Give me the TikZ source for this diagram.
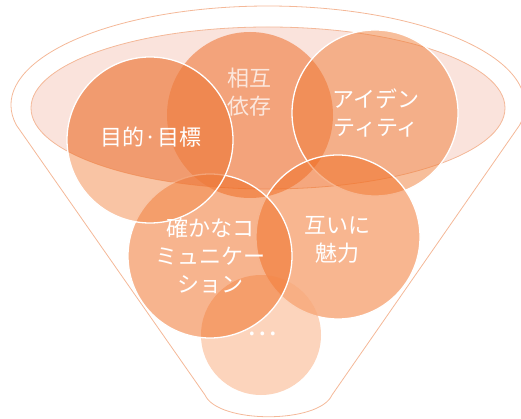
\documentclass[tikz,border=0pt]{standalone}
\usepackage{fontspec}
\newfontfamily\jp{Noto Sans CJK JP}
\definecolor{lineC}{RGB}{244,184,152}
\definecolor{ellC}{RGB}{250,227,220}
\definecolor{cA}{RGB}{243,137,73}
\definecolor{cB}{RGB}{238,101,28}
\definecolor{cC}{RGB}{240,125,56}
\definecolor{cD}{RGB}{241,109,33}
\definecolor{cE}{RGB}{239,105,29}
\definecolor{cF}{RGB}{249,169,121}
\definecolor{cOv}{RGB}{235,115,55}
\tikzset{
  funnelline/.style={draw=lineC, line width=0.8pt},
  bubble/.style={fill opacity=0.5},
  rim/.style={draw=white, line width=1.3pt},
  lbl/.style={font=\jp\fontsize{22}{28}\selectfont, align=center, text=white, inner sep=0pt},
}
\begin{document}
\begin{tikzpicture}[x=1pt,y=-1pt]
\useasboundingbox (0,0) rectangle (521,419);
% funnel outline
\coordinate (fl) at (16.34,125.08);
\coordinate (br) at (332,395);
\coordinate (bl) at (205,395);
\draw[funnelline] (fl) arc[start angle=168.3, end angle=371.7, x radius=257, y radius=99]
  -- (br) .. controls (319,424) and (218,424) .. (bl) -- cycle;
% inner ellipse
\path[fill=ellC, funnelline] (268,108) ellipse[x radius=237, y radius=81];
% circles
\fill[cB, bubble] (250,115) circle[radius=83];
\fill[cC, bubble] (375,113) circle[radius=83];
\draw[rim] (375,113) circle[radius=83];
\fill[cD, bubble] (338,237) circle[radius=82];
\draw[rim] (338,237) circle[radius=82];
\fill[cF, bubble] (261,335) circle[radius=60];
\fill[cE, bubble] (210,256) circle[radius=82];
\draw[rim] (210,256) circle[radius=82];
\fill[cA, bubble] (150,140) circle[radius=83];
\begin{scope}
  \clip (268,108) ellipse[x radius=237, y radius=81];
  \fill[cOv, fill opacity=0.38] (150,140) circle[radius=83];
\end{scope}
\draw[rim] (150,140) circle[radius=83];
% labels
\node[lbl] (t1) at (151,137) {目的·目標};
\node[lbl, text opacity=0.75] (t2) at (249,92) {相互\\依存};
\node[lbl] (t3) at (376,113) {アイデン\\ティティ};
\node[lbl] (t4) at (337,240) {互いに\\魅力};
\node[lbl] (t5) at (210,256) {確かなコ\\ミュニケー\\ション};
\node[lbl, font=\jp\fontsize{28}{30}\selectfont] (t6) at (262,334) {…};
\end{tikzpicture}
\end{document}
